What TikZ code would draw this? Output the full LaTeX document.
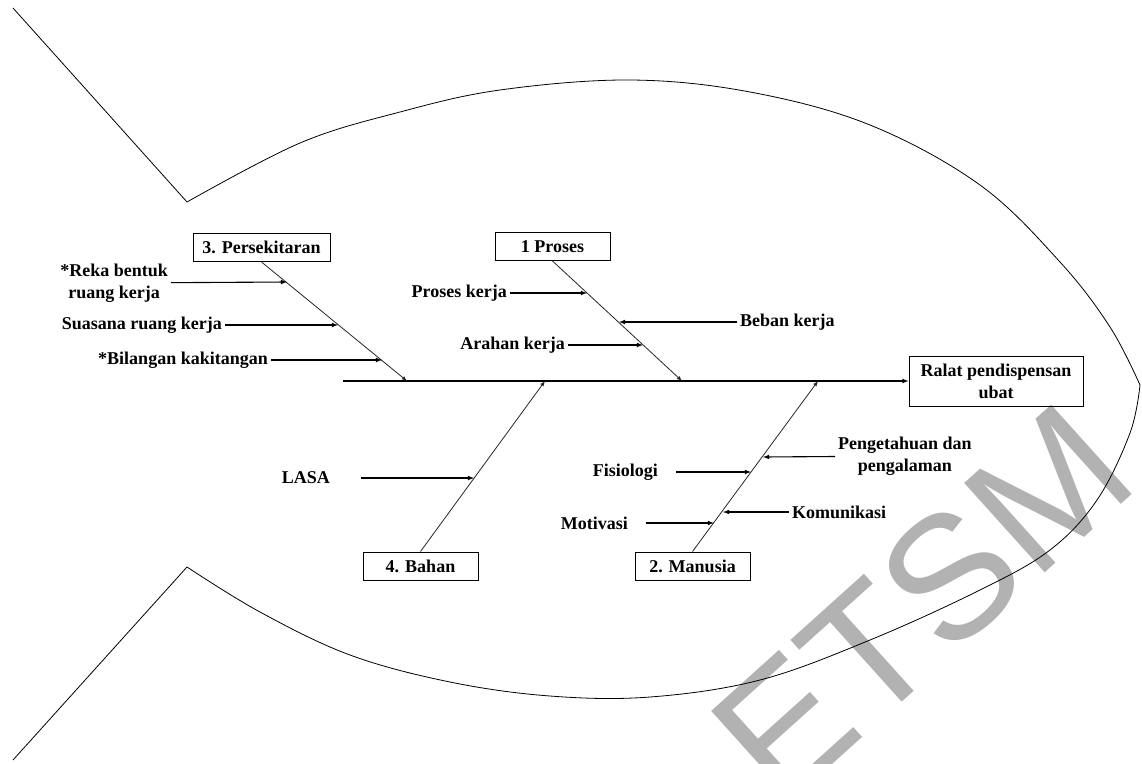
\documentclass[tikz,border=0pt]{standalone}
\usepackage{fontspec}
\setmainfont{Liberation Serif}
\setsansfont{Liberation Sans}

\newcommand{\ikanfont}{\fontsize{18}{22}\selectfont\bfseries}

\tikzset{
  kotak/.style={draw, line width=1pt, minimum width=115pt, minimum height=28pt, inner sep=3pt, font=\ikanfont},
  sebab/.style={inner sep=3pt, font=\ikanfont},
  tulang/.style={draw=black!85, line width=0.8pt},
  panah/.style={->, line width=1.1pt},
}

\begin{document}
\begin{tikzpicture}[x=1pt, y=-1pt, >=latex]
          \useasboundingbox (0,0) rectangle (1142,763);

          % Watermark
          \node[rotate=42, text=gray!60, font=\fontsize{175}{175}\selectfont\sffamily] (cap) at (922,603) {ETSM};

          % Fish outline
          \draw[line width=0.8pt] (13,8) -- (187,202);
          \draw[line width=0.8pt] plot[smooth, tension=0.6] coordinates {(187,202) (300,143) (400,112) (500,90) (630,80) (750,92) (870,125) (980,185) (1060,262) (1110,327) (1140,385)};
          \draw[line width=0.8pt] plot[smooth, tension=0.6] coordinates {(1140,385) (1130,433) (1097,500) (1050,550) (980,590) (870,640) (760,680) (650,697) (550,696) (450,682) (350,655) (260,612) (187,567)};
          \draw[line width=0.8pt] (187,567) -- (13,760);

          % Head and spine
          \node[kotak, minimum width=174pt, minimum height=50pt, align=center] (ralat) at (996,381) {Ralat pendispensan\\ubat};
          \coordinate (ekor) at (343,381);
          \draw[panah] (ekor) -- (ralat);

          % Main causes
          \node[kotak, minimum width=137pt] (persekitaran) at (261.5,247.5) {3. Persekitaran};
          \node[kotak] (proses) at (552.5,246.5) {1 Proses};
          \node[kotak] (bahan) at (420.5,566) {4. Bahan};
          \node[kotak] (manusia) at (692.5,566) {2. Manusia};

          \coordinate (t3) at (407,381);
          \coordinate (t1) at (682,381);
          \coordinate (t4) at (545,381);
          \coordinate (t2) at (818,381);
          \draw[tulang, ->] (persekitaran.south) -- (t3);
          \draw[tulang, ->] (proses.south) -- (t1);
          \draw[tulang, ->] (bahan.north) -- (t4);
          \draw[tulang, ->] (manusia.north) -- (t2);

          % 3. Persekitaran
          \node[sebab, anchor=east, align=center] (reka) at (171,283) {*Reka bentuk\\ruang kerja};
          \node[sebab, anchor=east] (suasana) at (225,325) {Suasana ruang kerja};
          \node[sebab, anchor=east] (bilangan) at (271,360) {*Bilangan kakitangan};
          \coordinate (r1) at (287,282);
          \coordinate (r2) at (338,325);
          \coordinate (r3) at (382,360);
          \draw[panah] (reka) -- (r1);
          \draw[panah] (suasana) -- (r2);
          \draw[panah] (bilangan) -- (r3);

          % 1 Proses
          \node[sebab, anchor=east] (proseskerja) at (510,293) {Proses kerja};
          \node[sebab, anchor=west] (beban) at (737,322) {Beban kerja};
          \node[sebab, anchor=east] (arahan) at (568,345) {Arahan kerja};
          \coordinate (p1) at (587,293);
          \coordinate (p2) at (619,322);
          \coordinate (p3) at (643,345);
          \draw[panah] (proseskerja) -- (p1);
          \draw[panah] (beban) -- (p2);
          \draw[panah] (arahan) -- (p3);

          % 4. Bahan
          \node[sebab, anchor=east] (lasa) at (333,478) {LASA};
          \coordinate (b1) at (474,478);
          \draw[panah, shorten <=28pt] (lasa) -- (b1);

          % 2. Manusia
          \node[sebab, anchor=east] (fisiologi) at (661,472) {Fisiologi};
          \node[sebab, anchor=west, align=center] (pengetahuan) at (835,456) {Pengetahuan dan\\pengalaman};
          \node[sebab, anchor=west] (komunikasi) at (789,512) {Komunikasi};
          \node[sebab, anchor=east] (motivasi) at (631,523) {Motivasi};
          \coordinate (m1) at (751,472);
          \coordinate (m2) at (763,457);
          \coordinate (m3) at (723,512);
          \coordinate (m4) at (714,523);
          \draw[panah, shorten <=15pt] (fisiologi) -- (m1);
          \draw[panah] (pengetahuan) -- (m2);
          \draw[panah] (komunikasi) -- (m3);
          \draw[panah, shorten <=15pt] (motivasi) -- (m4);

        \end{tikzpicture}
\end{document}
